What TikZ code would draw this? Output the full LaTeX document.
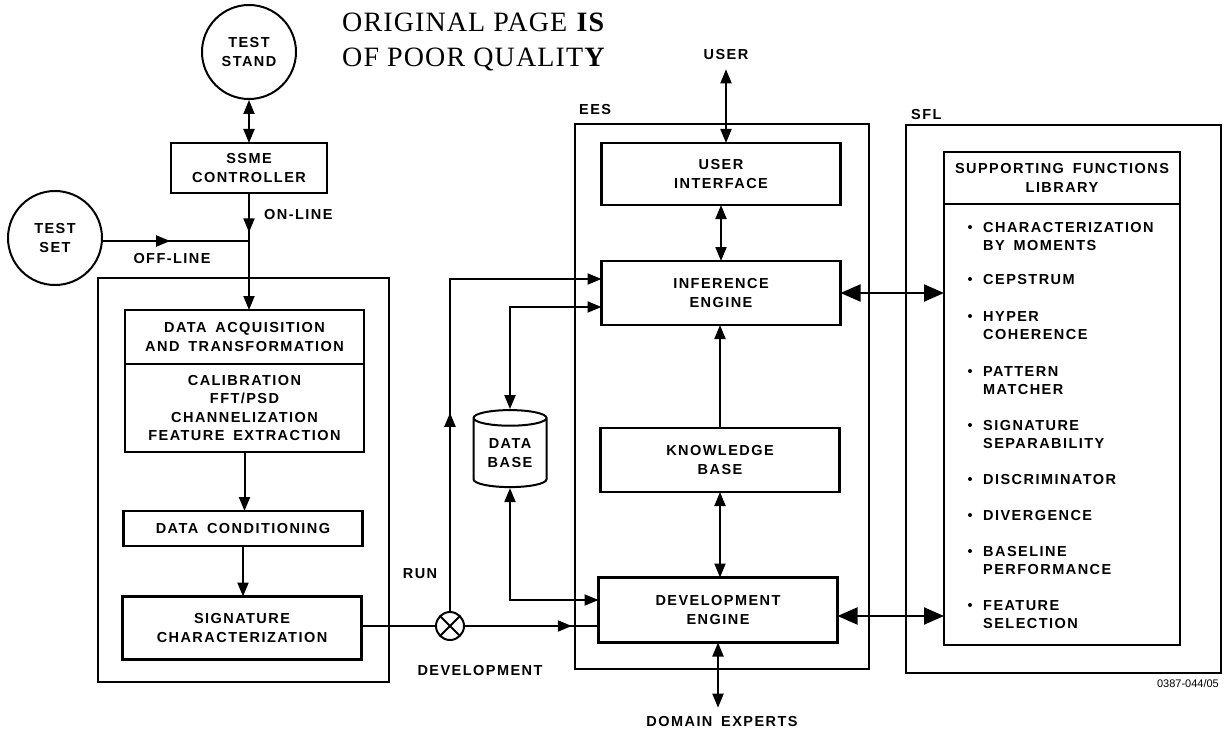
\documentclass[tikz,border=0pt]{standalone}
\usepackage{fontspec}
\setmainfont{Liberation Sans}
\newfontfamily\lblfont{Liberation Sans Bold}[LetterSpace=10,WordSpace=1.6]
\newfontfamily\stampfont{Liberation Serif}[LetterSpace=4]
\usetikzlibrary{positioning,shapes.geometric,arrows.meta,decorations.markings}

\tikzset{
  lbl/.style={font=\lblfont\fontsize{14.5}{18.5}\selectfont, align=center, inner sep=3pt},
  box/.style={lbl, draw, line width=2.8pt, outer sep=0pt, minimum width=239pt},
  frame/.style={draw, line width=1.6pt, minimum width=#1},
  ring/.style={lbl, circle, draw, line width=2pt, minimum size=94pt, inner sep=0pt},
  conn/.style={line width=2pt},
  arr/.style={conn, -{Triangle[length=14pt,width=11pt]}},
  dbl/.style={conn, {Triangle[length=14pt,width=11pt]}-{Triangle[length=14pt,width=11pt]}},
  bigdbl/.style={conn, {Triangle[length=20pt,width=17pt]}-{Triangle[length=20pt,width=17pt]}},
  marrow/.style={postaction={decorate}, decoration={markings,
      mark=at position #1 with {\arrow{Triangle[length=14pt,width=11pt]}}}},
  fnitem/.style={lbl, align=left, inner sep=0pt, anchor=base west},
  dotmark/.style={circle, fill, inner sep=0pt, minimum size=4pt}
}

\begin{document}
\begin{tikzpicture}[x=1pt,y=-1pt]
  \useasboundingbox (0,0) rectangle (1226,733);

  % stamp
  \node[font=\stampfont\fontsize{28}{30}\selectfont, anchor=west, inner sep=0] (stampa) at (342,22) {ORIGINAL PAGE \textbf{IS}};
  \node[font=\stampfont\fontsize{28}{30}\selectfont, anchor=west, inner sep=0] (stampb) at (342,60) {OF POOR QUALIT\textbf{Y}};

  % left chain
  \node[ring] (teststand) at (249,52) {TEST\\STAND};
  \node[box, line width=2pt, minimum width=156pt, minimum height=50pt] (ssme) at (249,168) {SSME\\CONTROLLER};
  \node[ring] (testset) at (55,238) {TEST\\SET};
  \coordinate (jn) at (249,241);
  \node[lbl, anchor=west] (online) at (261,215) {ON-LINE};
  \node[lbl] (offline) at (172,259) {OFF-LINE};

  \node[frame=291pt, minimum height=404pt] (leftframe) at (243.5,480) {};
  \node[box, minimum height=54pt] (daqhead) at (244.5,337) {DATA ACQUISITION\\AND TRANSFORMATION};
  \node[box, minimum height=88pt, below=0pt of daqhead] (daqbody) {CALIBRATION\\FFT/PSD\\CHANNELIZATION\\FEATURE EXTRACTION};
  \node[box, minimum height=35pt] (dc) at (243,528.5) {DATA CONDITIONING};
  \node[box, minimum height=63pt] (sc) at (242,628) {SIGNATURE\\CHARACTERIZATION};

  \draw[dbl] (teststand) -- (ssme);
  \draw[conn, marrow=0.82] (ssme.south -| jn) -- (jn);
  \draw[conn, marrow=0.46] (testset.east |- jn) -- (jn);
  \draw[arr] (jn) -- (jn |- daqhead.north);
  \draw[arr] (daqbody.south) -- (daqbody.south |- dc.north);
  \draw[arr] (dc.south) -- (dc.south |- sc.north);

  % switch and data base
  \node[circle, draw, line width=2pt, minimum size=28pt, inner sep=0pt,
        path picture={\draw[line width=1.8pt] (path picture bounding box.north west) -- (path picture bounding box.south east)
                      (path picture bounding box.south west) -- (path picture bounding box.north east);}] (ox) at (450,626) {};
  \node[lbl] (run) at (420,574) {RUN};
  \node[lbl] (develop) at (480,671) {DEVELOPMENT};
  \node[lbl, cylinder, draw, line width=2pt, shape border rotate=90, aspect=0.35,
        minimum width=73pt, minimum height=77pt, inner sep=0pt] (db) at (510,453) {DATA\\BASE};

  % EES
  \node[frame=294pt, minimum height=545pt] (ees) at (722,396.5) {};
  \node[lbl, anchor=west] (eeslbl) at (576,110) {EES};
  \node[box, minimum height=62pt] (ui) at (721,174) {USER\\INTERFACE};
  \node[box, minimum height=64pt] (ie) at (721,293) {INFERENCE\\ENGINE};
  \node[box, minimum height=64pt] (kb) at (720,460) {KNOWLEDGE\\BASE};
  \node[box, minimum height=65pt] (de) at (718,610) {DEVELOPMENT\\ENGINE};
  \node[lbl] (user) at (726,55) {USER};
  \node[lbl] (domain) at (722,722) {DOMAIN EXPERTS};

  % SFL
  \node[frame=315pt, minimum height=548pt] (sfl) at (1063.5,399) {};
  \node[lbl, anchor=west] (sfllbl) at (908,115) {SFL};
  \node[box, minimum width=236pt, minimum height=52pt] (libhead) at (1062,178) {SUPPORTING FUNCTIONS\\LIBRARY};
  \node[box, minimum width=236pt, minimum height=441pt, below=0pt of libhead] (libbody) {};
  \foreach \yy/\la/\lb [count=\n] in {227/CHARACTERIZATION/BY MOMENTS, 279/CEPSTRUM/,
      316/HYPER/COHERENCE, 371/PATTERN/MATCHER, 425/SIGNATURE/SEPARABILITY,
      479/DISCRIMINATOR/, 515/DIVERGENCE/, 551/BASELINE/PERFORMANCE, 605/FEATURE/SELECTION} {
    \node[dotmark] (dot\n) at (970,\yy) {};
    \node[fnitem] (fna\n) at (983,\yy+5) {\la};
    \node[fnitem] (fnb\n) at (983,\yy+23.5) {\lb};
  }

  % connectors
  \draw[conn] (sc.east |- ox) -- (ox.west);
  \draw[conn, marrow=0.8] (ox.east) -- (ox -| de.west);
  \draw[arr, marrow=0.41] (ox.north) |- ([yshift=14pt]ie.west);
  \draw[dbl] (db.north) |- ([yshift=-14pt]ie.west);
  \draw[dbl] (db.south) |- ([yshift=10pt]de.west);
  \draw[dbl, shorten <=6pt] (user.south) -- (user.south |- ui.north);
  \draw[dbl] (ui.south |- ie.north) -- (ui.south);
  \draw[arr] (kb.north) -- (kb.north |- ie.south);
  \draw[dbl] (kb.south) -- (kb.south |- de.north);
  \draw[dbl, shorten >=6pt] (de.south) -- (de.south |- domain.north);
  \draw[bigdbl] (ie.east) -- (ie.east -| libbody.west);
  \draw[bigdbl] ([yshift=-6pt]de.east) -- ([yshift=-6pt]de.east -| libbody.west);

  \node[font=\fontsize{11}{12}\selectfont, anchor=east, inner sep=0pt] (code) at (1219,684) {0387-044/05};
\end{tikzpicture}
\end{document}
